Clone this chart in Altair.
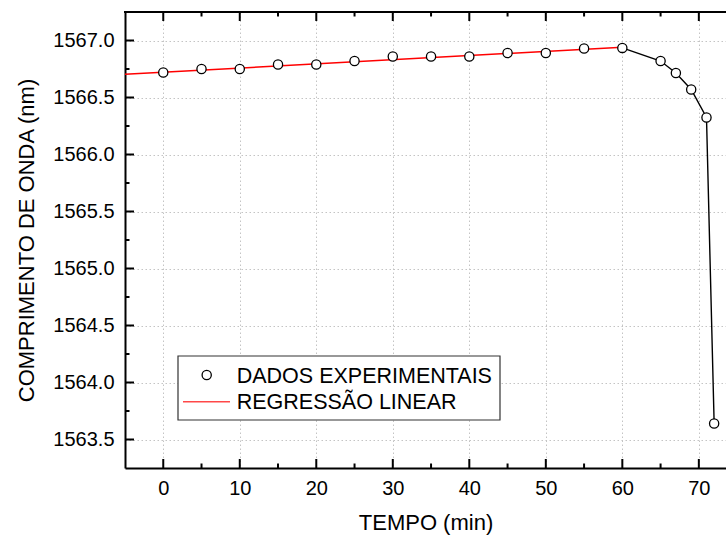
import altair as alt
import pandas as pd

# ---- data ----
tempo = [0, 5, 10, 15, 20, 25, 30, 35, 40, 45, 50, 55, 60, 65, 67, 69, 71, 72]
comprimento = [1566.72, 1566.75, 1566.75, 1566.79, 1566.79, 1566.82, 1566.86, 1566.86,
               1566.86, 1566.89, 1566.89, 1566.93, 1566.935, 1566.82, 1566.715, 1566.57,
               1566.325, 1563.64]
# black connecting line (after the linear region)
queda_t = [60, 65, 67, 69, 71, 72]
queda_v = [1566.935, 1566.82, 1566.715, 1566.57, 1566.325, 1563.64]
# linear regression line endpoints
reg_t = [-5, 60]
reg_v = [1566.704, 1566.941]

x_major = [0, 10, 20, 30, 40, 50, 60, 70]
x_minor = [5, 15, 25, 35, 45, 55, 65]
y_major = [1563.5, 1564.0, 1564.5, 1565.0, 1565.5, 1566.0, 1566.5, 1567.0]
y_minor = [1563.75, 1564.25, 1564.75, 1565.25, 1565.75, 1566.25, 1566.75]
legend_labels = ["DADOS EXPERIMENTAIS", "REGRESSÃO LINEAR"]

FONT = "Liberation Sans"
W, H = 601, 456
XDOM = [-5, 73.55]
YDOM = [1563.25, 1567.25]

pts = pd.DataFrame({"t": tempo, "v": comprimento})
queda = pd.DataFrame({"t": queda_t, "v": queda_v})
reg = pd.DataFrame({"t": reg_t, "v": reg_v})

xs = alt.Scale(domain=XDOM, nice=False, zero=False)
ys = alt.Scale(domain=YDOM, nice=False, zero=False)

x_axis = alt.Axis(values=x_major, title="TEMPO (min)", ticks=False, grid=True,
                  gridColor="#c4c4c4", gridDash=[1.5, 2.5], gridWidth=1,
                  domainColor="black", domainWidth=2, labelFont=FONT, labelFontSize=20,
                  labelColor="black", labelPadding=10, titleFont=FONT, titleFontSize=22,
                  titleFontWeight="normal", titleColor="black", titlePadding=14,
                  labelFlush=False)
y_axis = alt.Axis(values=y_major, title="COMPRIMENTO DE ONDA (nm)", ticks=False, grid=True,
                  gridColor="#c4c4c4", gridDash=[1.5, 2.5], gridWidth=1, format=".1f",
                  domainColor="black", domainWidth=2, labelFont=FONT, labelFontSize=20,
                  labelColor="black", labelPadding=11, titleFont=FONT, titleFontSize=22,
                  titleFontWeight="normal", titleColor="black", titlePadding=14,
                  labelFlush=False)

base_axes = alt.Chart(pts).mark_point(opacity=0).encode(
    x=alt.X("t:Q", scale=xs, axis=x_axis),
    y=alt.Y("v:Q", scale=ys, axis=y_axis),
)

line_queda = alt.Chart(queda).mark_line(color="black", strokeWidth=1.4).encode(
    x=alt.X("t:Q", scale=xs), y=alt.Y("v:Q", scale=ys))

line_reg = alt.Chart(reg).mark_line(color="#ff0000", strokeWidth=1.5).encode(
    x=alt.X("t:Q", scale=xs), y=alt.Y("v:Q", scale=ys))

points = alt.Chart(pts).mark_point(shape="circle", size=85, filled=False, fill="white",
                                   fillOpacity=1, stroke="black", strokeWidth=1.3,
                                   opacity=1).encode(
    x=alt.X("t:Q", scale=xs), y=alt.Y("v:Q", scale=ys))

# inward ticks
def xticks(vals, y0, y1):
    return alt.Chart(pd.DataFrame({"t": vals})).mark_rule(color="black", strokeWidth=2).encode(
        x=alt.X("t:Q", scale=xs), y=alt.value(y0), y2=alt.value(y1))

def yticks(vals, x0, x1):
    return alt.Chart(pd.DataFrame({"v": vals})).mark_rule(color="black", strokeWidth=2).encode(
        y=alt.Y("v:Q", scale=ys), x=alt.value(x0), x2=alt.value(x1))

ticks = [
    xticks(x_major, H, H - 9), xticks(x_minor, H, H - 4.5),
    xticks(x_major, 0, 9), xticks(x_minor, 0, 4.5),
    yticks(y_major, 0, 9), yticks(y_minor, 0, 4.5),
]

top_frame = alt.Chart(pts).mark_rule(color="black", strokeWidth=2).encode(
    x=alt.value(-1), x2=alt.value(W), y=alt.value(0))

# legend
one = pd.DataFrame({"a": [0]})
leg_box = alt.Chart(one).mark_rect(fill="white", stroke="#333333", strokeWidth=1.2).encode(
    x=alt.value(53), x2=alt.value(375), y=alt.value(344), y2=alt.value(408))
leg_pt = alt.Chart(one).mark_point(shape="circle", size=85, filled=False, fill="white",
                                   stroke="black", strokeWidth=1.3, opacity=1).encode(
    x=alt.value(81.7), y=alt.value(363))
leg_line = alt.Chart(one).mark_rule(color="#ff4848", strokeWidth=1.5).encode(
    x=alt.value(58), x2=alt.value(105), y=alt.value(389.7))
leg_txt1 = alt.Chart(pd.DataFrame({"lab": [legend_labels[0]]})).mark_text(
    font=FONT, fontSize=21.5, align="left", baseline="alphabetic", color="black").encode(
    text="lab:N", x=alt.value(111.7), y=alt.value(371.3))
leg_txt2 = alt.Chart(pd.DataFrame({"lab": [legend_labels[1]]})).mark_text(
    font=FONT, fontSize=21.5, align="left", baseline="alphabetic", color="black").encode(
    text="lab:N", x=alt.value(111.7), y=alt.value(397.3))

chart = alt.layer(
    base_axes, line_queda, line_reg, points, *ticks, top_frame,
    leg_box, leg_pt, leg_line, leg_txt1, leg_txt2,
).properties(
    width=W, height=H, autosize="none",
    padding={"left": 125, "top": 12, "right": 0, "bottom": 68},
    background="white",
).configure_view(stroke=None)

chart.save("out.html", embed_options={"renderer": "svg", "actions": False})
